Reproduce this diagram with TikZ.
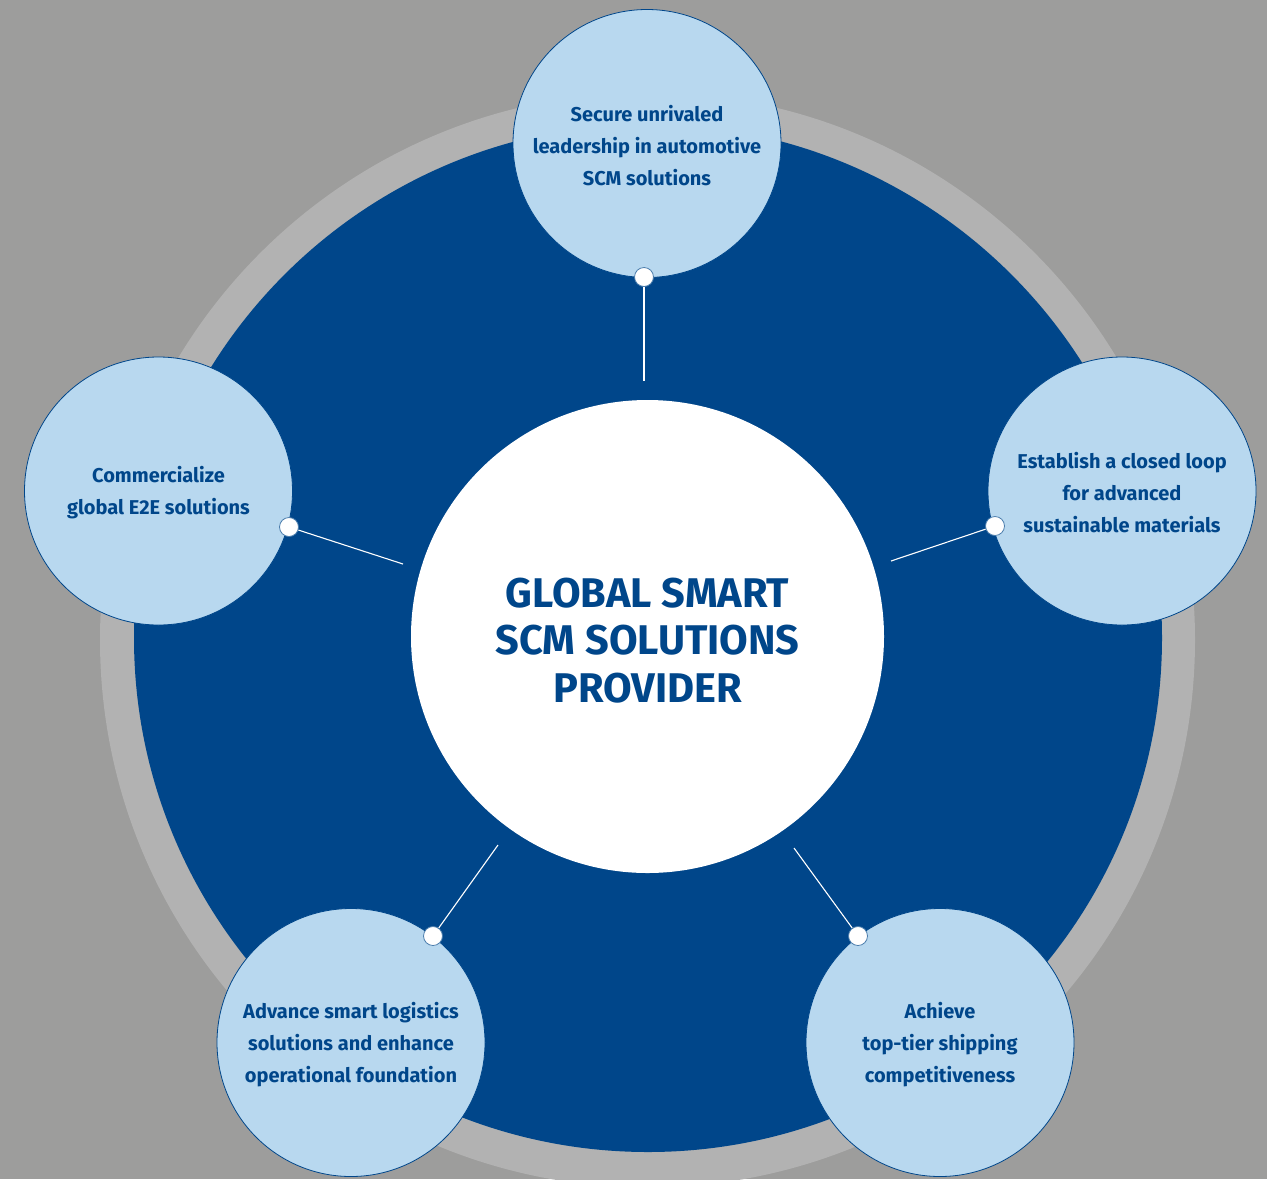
\documentclass[tikz,border=0pt]{standalone}
\usepackage{fontspec}
\setmainfont{Fira Sans}
\definecolor{bggray}{HTML}{9D9D9C}
\definecolor{ringgray}{HTML}{B2B2B2}
\definecolor{darkblue}{HTML}{00468A}
\definecolor{lightblue}{HTML}{B8D8EF}
\begin{document}
\begin{tikzpicture}[x=1pt,y=-1pt,
  sat/.style={circle,draw=darkblue,line width=0.8pt,fill=lightblue,minimum size=268pt,inner sep=0pt},
  sattext/.style={text=darkblue,font=\fontsize{20}{32}\selectfont\bfseries,align=center,inner sep=0pt,yshift=-2pt},
  dot/.style={circle,draw=darkblue!70!white,line width=0.8pt,fill=white,minimum size=19pt,inner sep=0pt},
  link/.style={draw=white,line width=1.1pt}]
\useasboundingbox (0,0) rectangle (1267,1179);
\fill[bggray] (0,0) rectangle (1267,1179);
\fill[ringgray] (647.5,640) circle (547.5);
\fill[darkblue] (648,638) circle (514);
\node[circle,fill=white,minimum size=473pt,inner sep=0pt] (center) at (647.5,636.5) {};
\node[text=darkblue,font=\fontsize{41.5}{47.5}\selectfont\bfseries,align=center,yshift=-4pt] (centertext) at (center.center)
  {GLOBAL SMART\\SCM SOLUTIONS\\PROVIDER};
\node[sat] (top) at (647,143.5) {};
\node[sattext] (toptext) at (top.center) {Secure unrivaled\\leadership in automotive\\SCM solutions};
\node[sat] (left) at (158.5,491) {};
\node[sattext] (lefttext) at (left.center) {Commercialize\\global E2E solutions};
\node[sat] (right) at (1122,491) {};
\node[sattext] (righttext) at (right.center) {Establish a closed loop\\for advanced\\sustainable materials};
\node[sat] (bl) at (351,1042.5) {};
\node[sattext] (bltext) at (bl.center) {Advance smart logistics\\solutions and enhance\\operational foundation};
\node[sat] (br) at (940,1042.5) {};
\node[sattext] (brtext) at (br.center) {Achieve\\top-tier shipping\\competitiveness};
\coordinate (etop) at (644,381);
\coordinate (eleft) at (403,564);
\coordinate (eright) at (891,561);
\coordinate (ebl) at (498,845);
\coordinate (ebr) at (794,848);
\node[dot] (dtop) at (644,277) {};
\node[dot] (dleft) at (289,527) {};
\node[dot] (dright) at (995,526) {};
\node[dot] (dbl) at (433,936) {};
\node[dot] (dbr) at (858,936) {};
\draw[link] (dtop) -- (etop);
\draw[link] (dleft) -- (eleft);
\draw[link] (dright) -- (eright);
\draw[link] (dbl) -- (ebl);
\draw[link] (dbr) -- (ebr);
\end{tikzpicture}
\end{document}
